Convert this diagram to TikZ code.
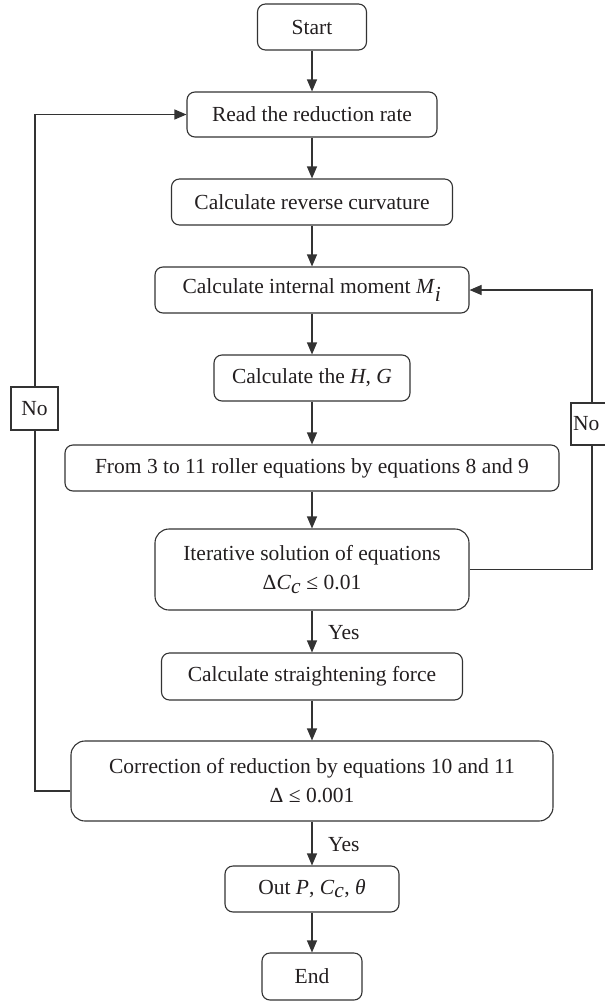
\documentclass[tikz,border=0pt]{standalone}
\usepackage{fontspec}
\setmainfont{Liberation Serif}
\usetikzlibrary{arrows.meta}
\definecolor{linec}{HTML}{333333}
\definecolor{txt}{HTML}{231F20}
\begin{document}
\begin{tikzpicture}[x=1pt,y=-1pt,
  box/.style={draw=linec, line width=1.1pt, rounded corners=8pt, align=center,
    inner sep=0pt, text=txt, font=\fontsize{21.5}{29}\selectfont},
  bigbox/.style={box, rounded corners=14pt},
  lbl/.style={draw=linec, line width=1.1pt, fill=white, inner sep=0pt, text=txt,
    font=\fontsize{21.5}{29}\selectfont},
  yeslbl/.style={inner sep=0pt, anchor=west, text=txt, font=\fontsize{21.5}{29}\selectfont},
  arr/.style={draw=linec, line width=1.1pt, -{Triangle[length=12pt,width=10pt]}},
  ln/.style={draw=linec, line width=1.1pt}]
\useasboundingbox (0,0) rectangle (605,1002);
\node[box, minimum width=109pt, minimum height=46pt] (start) at (312,27) {Start};
\node[box, minimum width=250pt, minimum height=45pt] (read) at (312,114.5) {Read the reduction rate};
\node[box, minimum width=281pt, minimum height=46pt] (rev) at (312,202) {Calculate reverse curvature};
\node[box, minimum width=314pt, minimum height=46pt] (int) at (312,290) {Calculate internal moment \textit{M}$_{\textit{i}}$};
\node[box, minimum width=196pt, minimum height=46pt] (hg) at (312,378) {Calculate the \textit{H}, \textit{G}};
\node[box, minimum width=494pt, minimum height=46pt] (from) at (312,468) {From 3 to 11 roller equations by equations 8 and 9};
\node[bigbox, minimum width=314pt, minimum height=81pt] (iter) at (312,569.5) {Iterative solution of equations\\ Δ\textit{C}$_{\textit{c}}$ ≤ 0.01};
\node[box, minimum width=301pt, minimum height=47pt] (str) at (312,676.5) {Calculate straightening force};
\node[bigbox, minimum width=482pt, minimum height=80pt] (corr) at (312,781) {Correction of reduction by equations 10 and 11\\ Δ ≤ 0.001};
\node[box, minimum width=174pt, minimum height=46pt] (out) at (312,889) {Out \textit{P}, \textit{C}$_{\textit{c}}$, \textit{θ}};
\node[box, minimum width=100pt, minimum height=47pt] (end) at (312,976.5) {End};

\draw[arr] (start) -- (read);
\draw[arr] (read) -- (rev);
\draw[arr] (rev) -- (int);
\draw[arr] (int) -- (hg);
\draw[arr] (hg) -- (from);
\draw[arr] (from) -- (iter);
\draw[arr] (iter) -- (str);
\draw[arr] (str) -- (corr);
\draw[arr] (corr) -- (out);
\draw[arr] (out) -- (end);

\coordinate (lx) at (35,0);
\coordinate (rx) at (592,0);
\draw[arr] ([yshift=-10pt]corr.west) -| (lx |- read.west) -- (read.west);
\draw[arr] (iter.east) -| (rx |- int.east) -- (int.east);

\node[lbl, minimum width=47pt, minimum height=43pt] (no1) at (34.5,408.5) {No};
\node[lbl, minimum height=42pt, text width=43pt, inner xsep=2pt, align=left] (no2) at (594.5,424) {No};

\node[yeslbl] (yes1) at (328,633) {Yes};
\node[yeslbl] (yes2) at (328,845) {Yes};
\end{tikzpicture}
\end{document}
